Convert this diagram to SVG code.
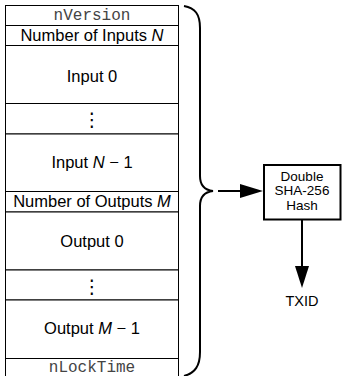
<svg xmlns="http://www.w3.org/2000/svg" width="343" height="376" viewBox="0 0 343 376">
<style>
.cell{fill:#fff;stroke:#000;stroke-width:1}
.t{font-family:"Liberation Sans",Arial,sans-serif;font-size:16.5px;fill:#000;text-anchor:middle}
.m{font-family:"Liberation Mono","Courier New",monospace;font-size:16px;fill:#444;text-anchor:middle}
.d{font-family:"DejaVu Sans",sans-serif;font-size:19px;fill:#000;text-anchor:middle}
.s{font-family:"Liberation Sans",Arial,sans-serif;font-size:13.5px;fill:#000;text-anchor:middle}
.w{font-family:"Liberation Sans",Arial,sans-serif;font-size:14.5px;fill:#000;text-anchor:middle}
.line{stroke:#000;stroke-width:2;fill:none}
</style>
<rect width="343" height="376" fill="#fff"/>
<g id="tx">
<g id="nVersion"><rect class="cell" x="5.5" y="5.5" width="173" height="20"/><text class="m" x="92" y="19.5">nVersion</text></g>
<g id="numInputs"><rect class="cell" x="5.5" y="25.5" width="173" height="20"/><text class="t" x="92" y="41">Number of Inputs <tspan font-style="italic">N</tspan></text></g>
<g id="input0"><rect class="cell" x="5.5" y="45.5" width="173" height="58"/><text class="t" x="92" y="81.5">Input 0</text></g>
<g id="inputDots"><rect class="cell" x="5.5" y="103.5" width="173" height="30.5"/><text class="d" x="92" y="126">⋮</text></g>
<g id="inputN1"><rect class="cell" x="5.5" y="134" width="173" height="57.5"/><text class="t" x="92" y="168">Input <tspan font-style="italic">N</tspan> − 1</text></g>
<g id="numOutputs"><rect class="cell" x="5.5" y="191.5" width="173" height="20.5"/><text class="t" x="92" y="207">Number of Outputs <tspan font-style="italic">M</tspan></text></g>
<g id="output0"><rect class="cell" x="5.5" y="212" width="173" height="58"/><text class="t" x="92" y="246.5">Output 0</text></g>
<g id="outputDots"><rect class="cell" x="5.5" y="270" width="173" height="30"/><text class="d" x="92" y="293">⋮</text></g>
<g id="outputM1"><rect class="cell" x="5.5" y="300" width="173" height="58.5"/><text class="t" x="92" y="334">Output <tspan font-style="italic">M</tspan> − 1</text></g>
<g id="nLockTime"><rect class="cell" x="5.5" y="358.5" width="173" height="20"/><text class="m" x="92" y="372">nLockTime</text></g>
</g>
<g id="hash"><rect x="264" y="165" width="76.5" height="54.5" fill="#fff" stroke="#000" stroke-width="2"/>
<text class="s" x="302" y="180.5">Double</text>
<text class="s" x="302" y="195">SHA-256</text>
<text class="s" x="302" y="209.5">Hash</text></g>
<g id="txid"><text class="w" x="302" y="306">TXID</text></g>
<g id="connectors">
<path class="line" d="M184,6 C195,8 200,14 200,28 L200,176 C200,185 204,190 213,191 C204,192 200,197 200,206 L200,352 C200,366 195,373 184,376"/>
<line class="line" x1="218" y1="191" x2="242" y2="191"/>
<polygon points="240,184 263,191 240,198" fill="#000"/>
<line class="line" x1="302" y1="220" x2="302" y2="268"/>
<polygon points="295,266 302,288 309,266" fill="#000"/>
</g>
</svg>
